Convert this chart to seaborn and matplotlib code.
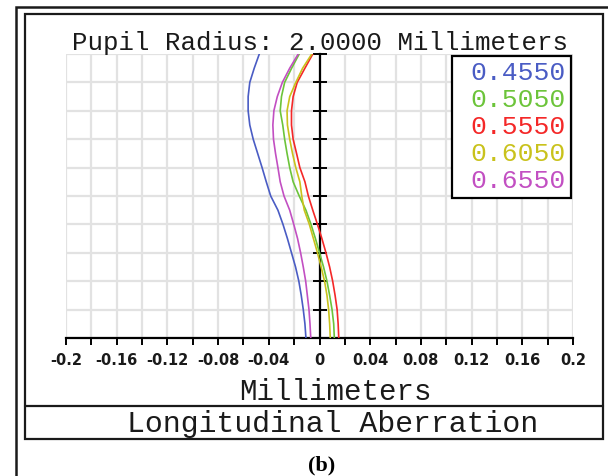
import numpy as np
import pandas as pd
import matplotlib
matplotlib.use("Agg")
import matplotlib.pyplot as plt
from matplotlib.patches import Rectangle
from matplotlib.lines import Line2D
import seaborn as sns

# ---- data ----
pupil = [0.00, 0.05, 0.10, 0.15, 0.20, 0.25, 0.30, 0.35, 0.40, 0.45, 0.50,
         0.55, 0.60, 0.65, 0.70, 0.75, 0.80, 0.85, 0.90, 0.95, 1.00]
wavelengths = ["0.4550", "0.5050", "0.5550", "0.6050", "0.6550"]
ab_4550 = [-0.0107, -0.0115, -0.0128, -0.0144, -0.0163, -0.0189, -0.0221, -0.0253, -0.0288, -0.0328, -0.0385,
           -0.0420, -0.0453, -0.0488, -0.0523, -0.0550, -0.0563, -0.0563, -0.0550, -0.0515, -0.0475]
ab_5050 = [0.0117, 0.0112, 0.0099, 0.0080, 0.0059, 0.0032, 0.0000, -0.0032, -0.0067, -0.0107, -0.0160,
           -0.0208, -0.0235, -0.0256, -0.0275, -0.0290, -0.0310, -0.0300, -0.0275, -0.0220, -0.0160]
ab_5550 = [0.0152, 0.0147, 0.0139, 0.0123, 0.0104, 0.0080, 0.0051, 0.0019, -0.0016, -0.0053, -0.0088,
           -0.0115, -0.0155, -0.0181, -0.0208, -0.0221, -0.0221, -0.0208, -0.0176, -0.0115, -0.0053]
ab_6050 = [0.0085, 0.0080, 0.0072, 0.0059, 0.0040, 0.0013, -0.0016, -0.0048, -0.0080, -0.0120, -0.0140,
           -0.0155, -0.0187, -0.0213, -0.0235, -0.0253, -0.0256, -0.0235, -0.0187, -0.0133, -0.0061]
ab_6550 = [-0.0069, -0.0075, -0.0083, -0.0096, -0.0109, -0.0128, -0.0149, -0.0173, -0.0203, -0.0235, -0.0280,
           -0.0310, -0.0328, -0.0347, -0.0363, -0.0368, -0.0360, -0.0333, -0.0293, -0.0235, -0.0168]
series = [ab_4550, ab_5050, ab_5550, ab_6050, ab_6550]
colors = ["#4a5cc4", "#6cc43a", "#f42828", "#c9c21c", "#c24fc2"]

x_ticks = [-0.2, -0.18, -0.16, -0.14, -0.12, -0.10, -0.08, -0.06, -0.04, -0.02, 0.0,
           0.02, 0.04, 0.06, 0.08, 0.10, 0.12, 0.14, 0.16, 0.18, 0.2]
x_ticklabels = ["-0.2", "", "-0.16", "", "-0.12", "", "-0.08", "", "-0.04", "", "0",
                "", "0.04", "", "0.08", "", "0.12", "", "0.16", "", "0.2"]
y_ticks = [0.0, 0.1, 0.2, 0.3, 0.4, 0.5, 0.6, 0.7, 0.8, 0.9, 1.0]

title = "Pupil Radius: 2.0000 Millimeters"
xlabel = "Millimeters"
footer = "Longitudinal Aberration"
caption = "(b)"

rows = []
for wl, vals in zip(wavelengths, series):
    for p, v in zip(pupil, vals):
        rows.append({"wl": wl, "x": v, "y": p})
df = pd.DataFrame(rows)

# ---- figure ----
sns.set_style("white")
W, H = 608, 476
fig = plt.figure(figsize=(W / 100, H / 100), dpi=100)

def fx(px):
    return px / W

def fy(py):
    return 1 - py / H

ax = fig.add_axes([fx(66), fy(338), (573 - 66) / W, (338 - 54) / H])

sns.lineplot(data=df, x="x", y="y", hue="wl", palette=colors, sort=False,
             estimator=None, linewidth=1.2, ax=ax, zorder=3)

ax.set_xlim(-0.2, 0.2)
ax.set_ylim(0, 1)
ax.set_xticks(x_ticks)
ax.set_xticklabels(x_ticklabels, fontsize=10.5, fontweight="bold", family="DejaVu Sans", color="#1a1a1a")
ax.set_yticks(y_ticks)
ax.set_yticklabels([])
ax.grid(True, color="#e2e2e2", linewidth=1.6, zorder=0)
ax.set_axisbelow(True)
for s in ["top", "right"]:
    ax.spines[s].set_visible(False)
ax.spines["left"].set_position(("data", 0))
ax.spines["left"].set_linewidth(1.6)
ax.spines["left"].set_color("black")
ax.spines["left"].set_zorder(2)
ax.spines["bottom"].set_linewidth(1.6)
ax.spines["bottom"].set_color("black")
ax.tick_params(axis="x", direction="out", length=5, width=1.4, color="black", pad=6, bottom=True)
ax.tick_params(axis="y", direction="inout", length=10, width=1.4, color="black", left=True)
ax.set_xlabel("")
ax.set_ylabel("")

leg = ax.legend(loc="upper right", bbox_to_anchor=(0.996, 0.993), borderaxespad=0,
                handlelength=0, handletextpad=0.5, labelcolor="linecolor",
                prop={"family": "Liberation Mono", "size": 19}, labelspacing=0.11,
                frameon=True, fancybox=False, borderpad=0.2)
for h in leg.legend_handles:
    h.set_visible(False)
leg.get_frame().set_edgecolor("black")
leg.get_frame().set_linewidth(1.6)
leg.get_frame().set_alpha(1)

mono = "Liberation Mono"
fig.text(fx(320), fy(50), title, family=mono, fontsize=18.5, ha="center", va="baseline", color="#1a1a1a")
fig.text(fx(335), fy(400), xlabel, family=mono, fontsize=21, ha="center", va="baseline", color="#1a1a1a")
fig.text(fx(333), fy(432), footer, family=mono, fontsize=21.5, ha="center", va="baseline", color="#1a1a1a")
fig.text(fx(322), fy(470), caption, family="Liberation Serif", fontsize=16, fontweight="bold",
         ha="center", va="baseline", color="black")

# frames
fig.add_artist(Rectangle((fx(16), fy(490)), fx(620) - fx(16), fy(7) - fy(490),
                         transform=fig.transFigure, fill=False, edgecolor="#1a1a1a", linewidth=1.8))
fig.add_artist(Rectangle((fx(25), fy(439)), fx(603) - fx(25), fy(14) - fy(439),
                         transform=fig.transFigure, fill=False, edgecolor="#1a1a1a", linewidth=1.6))
fig.add_artist(Line2D([fx(25), fx(603)], [fy(406), fy(406)], transform=fig.transFigure,
                      color="#1a1a1a", linewidth=1.6))

fig.savefig("out.png", dpi=100)
